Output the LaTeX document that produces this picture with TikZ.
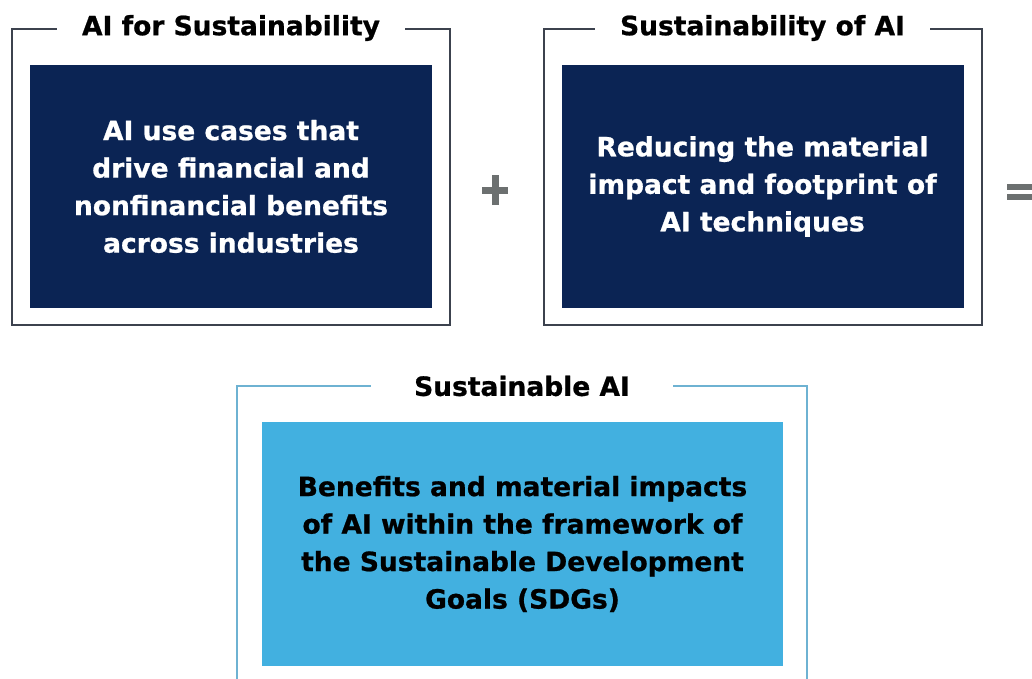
\documentclass[tikz,border=0pt]{standalone}
\usepackage{fontspec}
\setmainfont{DejaVu Sans}[BoldFeatures={FakeBold=0.8}]
\usepackage{tikz}
\usepackage{xcolor}
\definecolor{navy}{RGB}{11,36,84}
\definecolor{skyblue}{RGB}{66,176,224}
\definecolor{framegrey}{RGB}{60,66,78}
\definecolor{frameblue}{RGB}{110,178,210}
\definecolor{signgrey}{RGB}{108,112,112}

\begin{document}
\begin{tikzpicture}[x=1pt, y=-1pt,
        frame/.style={draw=framegrey, line width=2pt, minimum width=438pt, minimum height=296pt},
        title/.style={fill=white, inner xsep=25pt, inner ysep=2pt, font=\bfseries\fontsize{26.5}{30}\selectfont},
        card/.style={fill=navy, text=white, align=center, minimum width=402pt, minimum height=243pt,
            font=\bfseries\fontsize{26.5}{37.5}\selectfont},
        sign/.style={signgrey, line width=7pt}]
    \useasboundingbox (0, 0) rectangle (1032, 679);
    \clip (0, 0) rectangle (1032, 679);

    % the two upper frames
    \node[frame] (forframe) at (231, 177) {};
    \node[frame] (offrame) at (762.5, 177) {};
    \node[title] (fortitle) at (forframe.north) {AI for Sustainability};
    \node[title] (oftitle) at (offrame.north) {Sustainability of AI};

    \node[card] (forcard) at (231, 186.5) {AI use cases that\\drive financial and\\nonfinancial benefits\\across industries};
    \node[card] (ofcard) at (762.5, 186.5) {Reducing the material\\impact and footprint of\\AI techniques};

    % plus and equals
    \coordinate (plus) at (495, 190);
    \draw[sign] ([xshift=-13pt]plus) -- ([xshift=13pt]plus);
    \draw[sign] ([yshift=-15pt]plus) -- ([yshift=15pt]plus);
    \coordinate (equals) at (1007, 192);
    \draw[sign, line width=5.5pt] ([yshift=-5pt]equals) -- ++(40, 0);
    \draw[sign, line width=5.5pt] ([yshift=5pt]equals) -- ++(40, 0);

    % lower frame, open at the bottom
    \draw[frameblue, line width=1.6pt] (237, 690) -- (237, 386) -- (807, 386) -- (807, 690);
    \node[title, inner xsep=43pt] (sumtitle) at (522, 386) {Sustainable AI};
    \node[card, fill=skyblue, text=black, minimum width=521pt, minimum height=244pt] (sumcard) at (522.5, 544)
        {Benefits and material impacts\\of AI within the framework of\\the Sustainable Development\\Goals (SDGs)};
\end{tikzpicture}
\end{document}
